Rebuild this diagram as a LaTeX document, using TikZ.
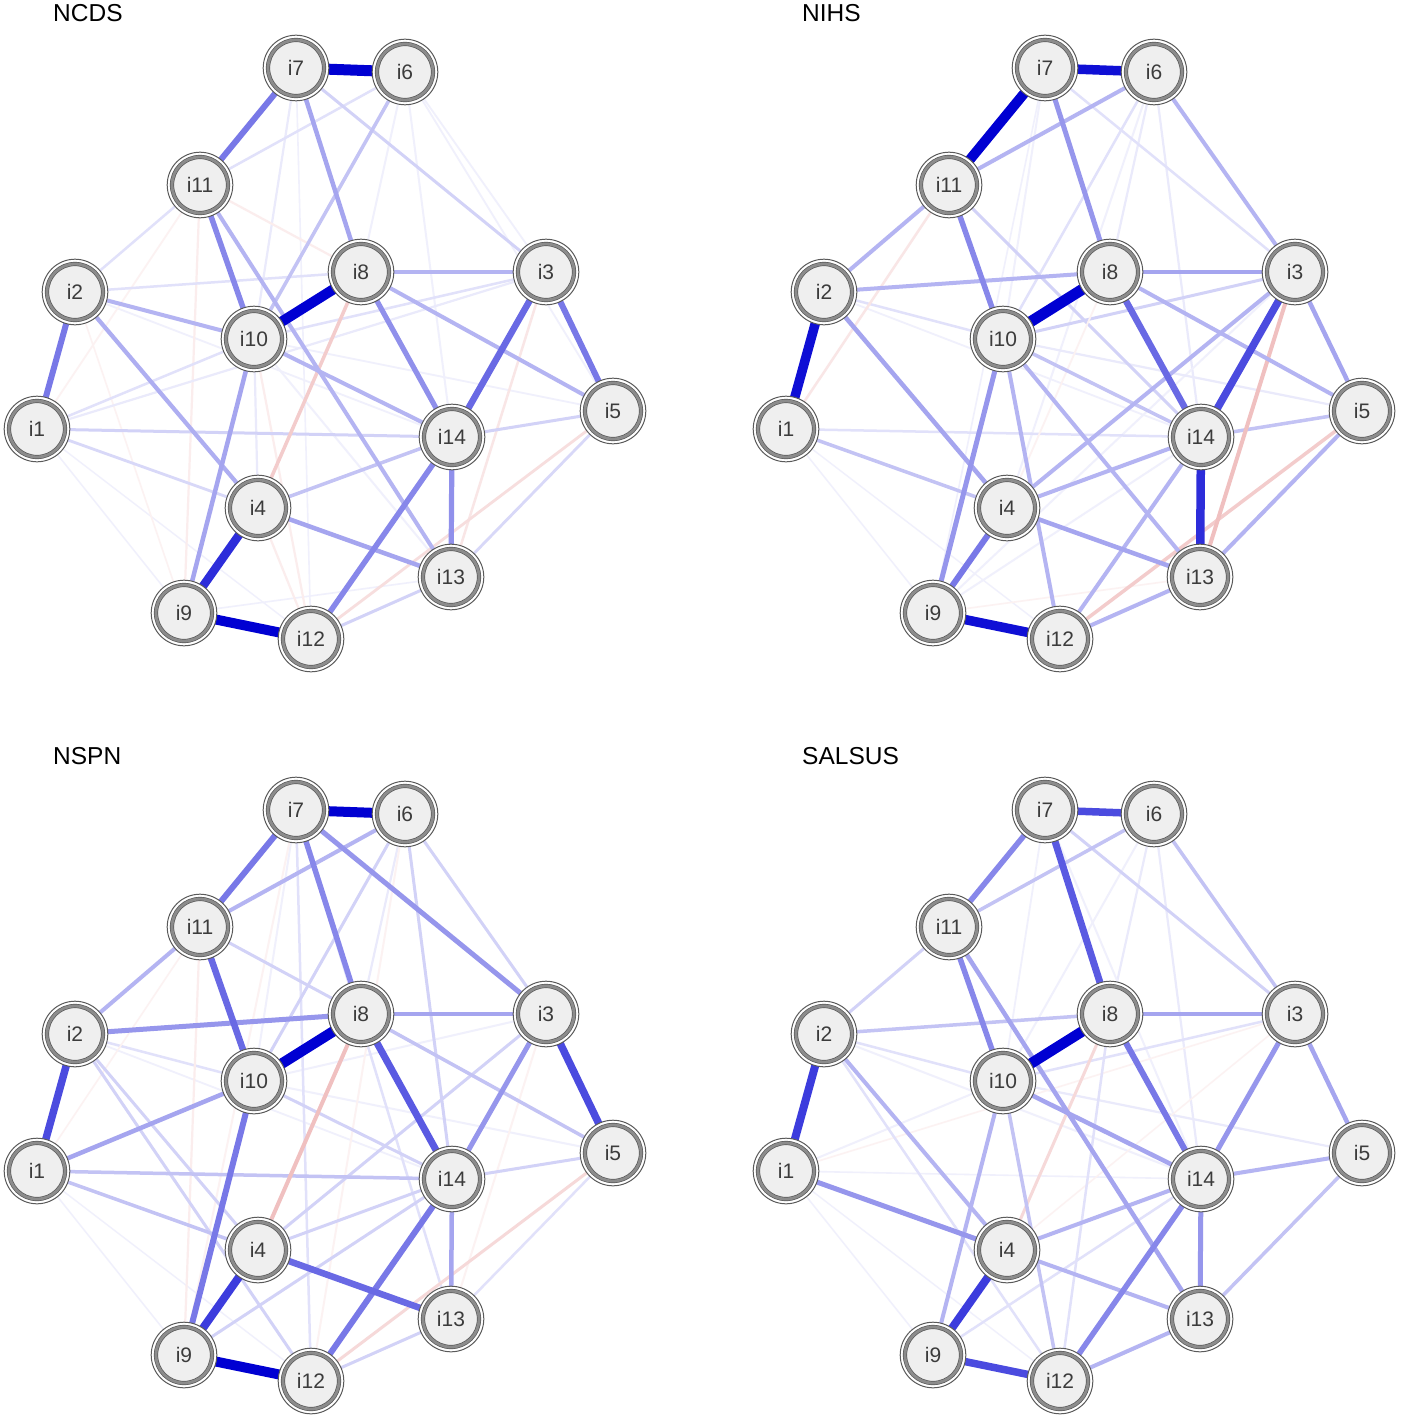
\documentclass[tikz,border=0pt]{standalone}
\usepackage{fontspec}
\setmainfont{Liberation Sans}
\pgfdeclarelayer{bglayer}
\pgfdeclarelayer{edgelayer}
\pgfsetlayers{bglayer,edgelayer,main}
\definecolor{posblue}{RGB}{0,0,210}
\definecolor{negred}{RGB}{205,40,40}
\definecolor{nodefill}{RGB}{239,239,239}
\definecolor{ringdark}{RGB}{90,90,90}
\definecolor{ringgray}{RGB}{140,140,140}
\definecolor{labelgray}{RGB}{60,60,60}
\tikzset{
  itemnode/.style={circle, minimum size=56pt, inner sep=0pt, fill=nodefill,
    draw=ringdark, line width=0.7pt, double=ringgray, double distance=2.8pt,
    font=\fontsize{21}{21}\selectfont, text=labelgray},
  outerring/.style={draw=ringdark, line width=1pt, fill=white},
  paneltitle/.style={anchor=base west, font=\fontsize{24.5}{24.5}\selectfont, text=black, inner sep=0pt},
}
\newcommand{\mkpanel}[4]{%
  \node[paneltitle] (#1-title) at (53+#2,22+#3) {#4};
  \foreach \n/\x/\y in {i7/296/68,i6/405/72,i11/200/185,i8/361/272,i3/546/272,i2/75/292,i10/254/339,i1/37/429,i5/613/411,i14/452/437,i4/258/508,i13/451/577,i9/184/613,i12/311/639}{%
    \path[outerring] (\x+#2,\y+#3) circle (32.8);
    \node[itemnode] (#1-\n) at (\x+#2,\y+#3) {\n};
  }%
}
\newcommand{\Pe}[4]{%
  \pgfmathsetmacro\pct{min(100,max(6,118*#4-6))}%
  \pgfmathsetmacro\lw{1+10*#4}%
  \begin{pgfonlayer}{edgelayer}
  \draw[line width=\lw pt, color=posblue!\pct!white] (#1-#2) -- (#1-#3);
  \end{pgfonlayer}}
\newcommand{\Ne}[4]{%
  \pgfmathsetmacro\pct{min(100,max(6,118*#4-6))}%
  \pgfmathsetmacro\lw{1+10*#4}%
  \begin{pgfonlayer}{edgelayer}
  \draw[line width=\lw pt, color=negred!\pct!white] (#1-#2) -- (#1-#3);
  \end{pgfonlayer}}
\begin{document}
\begin{tikzpicture}[x=1pt,y=-1pt]
\begin{pgfonlayer}{bglayer}
\fill[white] (0,0) rectangle (1400,1418);
\end{pgfonlayer}
\useasboundingbox (0,0) rectangle (1400,1418);
\mkpanel{A}{0}{0}{NCDS}
\mkpanel{B}{749}{0}{NIHS}
\mkpanel{C}{0}{742}{NSPN}
\mkpanel{D}{749}{742}{SALSUS}
% ---------------- NCDS ----------------
\Pe{A}{i1}{i12}{0.04}
\Pe{A}{i1}{i9}{0.05}
\Pe{A}{i6}{i5}{0.08}
\Pe{A}{i6}{i14}{0.1}
\Pe{A}{i6}{i8}{0.1}
\Pe{A}{i7}{i10}{0.12}
\Pe{A}{i7}{i12}{0.06}
\Pe{A}{i6}{i3}{0.08}
\Pe{A}{i2}{i14}{0.08}
\Pe{A}{i10}{i5}{0.08}
\Pe{A}{i9}{i13}{0.06}
\Pe{A}{i4}{i10}{0.12}
\Pe{A}{i10}{i13}{0.1}
\Ne{A}{i11}{i1}{0.08}
\Ne{A}{i11}{i9}{0.12}
\Ne{A}{i11}{i8}{0.12}
\Ne{A}{i10}{i12}{0.12}
\Ne{A}{i4}{i12}{0.12}
\Ne{A}{i2}{i9}{0.06}
\Ne{A}{i3}{i13}{0.15}
\Ne{A}{i5}{i12}{0.18}
\Pe{A}{i2}{i11}{0.15}
\Pe{A}{i2}{i8}{0.15}
\Pe{A}{i1}{i10}{0.15}
\Pe{A}{i1}{i3}{0.12}
\Pe{A}{i6}{i11}{0.15}
\Pe{A}{i7}{i3}{0.2}
\Pe{A}{i3}{i10}{0.15}
\Pe{A}{i5}{i13}{0.18}
\Pe{A}{i12}{i13}{0.2}
\Pe{A}{i1}{i4}{0.18}
\Pe{A}{i14}{i5}{0.2}
\Pe{A}{i1}{i14}{0.2}
\Pe{A}{i6}{i10}{0.25}
\Pe{A}{i4}{i14}{0.25}
\Ne{A}{i8}{i4}{0.25}
\Pe{A}{i8}{i3}{0.3}
\Pe{A}{i8}{i5}{0.3}
\Pe{A}{i10}{i14}{0.3}
\Pe{A}{i11}{i13}{0.3}
\Pe{A}{i2}{i10}{0.3}
\Pe{A}{i2}{i4}{0.32}
\Pe{A}{i4}{i13}{0.35}
\Pe{A}{i10}{i9}{0.35}
\Pe{A}{i7}{i8}{0.35}
\Pe{A}{i8}{i14}{0.42}
\Pe{A}{i14}{i13}{0.42}
\Pe{A}{i14}{i12}{0.45}
\Pe{A}{i11}{i10}{0.45}
\Pe{A}{i2}{i1}{0.5}
\Pe{A}{i3}{i5}{0.5}
\Pe{A}{i7}{i11}{0.5}
\Pe{A}{i3}{i14}{0.55}
\Pe{A}{i4}{i9}{0.75}
\Pe{A}{i9}{i12}{0.9}
\Pe{A}{i8}{i10}{0.92}
\Pe{A}{i7}{i6}{1.0}
% ---------------- NIHS ----------------
\Pe{B}{i1}{i12}{0.04}
\Pe{B}{i1}{i9}{0.05}
\Pe{B}{i6}{i8}{0.12}
\Pe{B}{i6}{i10}{0.15}
\Pe{B}{i6}{i4}{0.1}
\Pe{B}{i6}{i14}{0.12}
\Pe{B}{i7}{i10}{0.1}
\Pe{B}{i7}{i3}{0.15}
\Pe{B}{i7}{i9}{0.06}
\Pe{B}{i9}{i14}{0.1}
\Pe{B}{i9}{i3}{0.1}
\Pe{B}{i10}{i5}{0.12}
\Pe{B}{i2}{i14}{0.08}
\Pe{B}{i2}{i10}{0.15}
\Pe{B}{i1}{i14}{0.15}
\Pe{B}{i10}{i3}{0.2}
\Pe{B}{i11}{i14}{0.2}
\Ne{B}{i11}{i1}{0.15}
\Ne{B}{i8}{i4}{0.08}
\Ne{B}{i9}{i13}{0.06}
\Pe{B}{i1}{i4}{0.25}
\Pe{B}{i10}{i14}{0.25}
\Pe{B}{i14}{i5}{0.25}
\Ne{B}{i5}{i12}{0.25}
\Ne{B}{i3}{i13}{0.3}
\Pe{B}{i2}{i8}{0.3}
\Pe{B}{i2}{i11}{0.3}
\Pe{B}{i6}{i11}{0.3}
\Pe{B}{i6}{i3}{0.3}
\Pe{B}{i8}{i5}{0.3}
\Pe{B}{i4}{i3}{0.3}
\Pe{B}{i4}{i14}{0.3}
\Pe{B}{i10}{i13}{0.3}
\Pe{B}{i10}{i12}{0.3}
\Pe{B}{i12}{i14}{0.3}
\Pe{B}{i12}{i13}{0.3}
\Pe{B}{i13}{i5}{0.3}
\Pe{B}{i8}{i3}{0.35}
\Pe{B}{i2}{i4}{0.35}
\Pe{B}{i3}{i5}{0.35}
\Pe{B}{i4}{i13}{0.35}
\Pe{B}{i7}{i8}{0.4}
\Pe{B}{i10}{i9}{0.4}
\Pe{B}{i11}{i10}{0.45}
\Pe{B}{i4}{i9}{0.5}
\Pe{B}{i8}{i14}{0.55}
\Pe{B}{i3}{i14}{0.65}
\Pe{B}{i14}{i13}{0.75}
\Pe{B}{i7}{i6}{0.85}
\Pe{B}{i9}{i12}{0.85}
\Pe{B}{i2}{i1}{0.85}
\Pe{B}{i7}{i11}{0.9}
\Pe{B}{i8}{i10}{1.0}
% ---------------- NSPN ----------------
\Pe{C}{i1}{i12}{0.04}
\Pe{C}{i1}{i9}{0.05}
\Pe{C}{i6}{i8}{0.12}
\Pe{C}{i7}{i10}{0.1}
\Pe{C}{i2}{i10}{0.15}
\Pe{C}{i2}{i14}{0.08}
\Pe{C}{i10}{i5}{0.1}
\Pe{C}{i10}{i3}{0.1}
\Ne{C}{i11}{i9}{0.12}
\Ne{C}{i7}{i9}{0.1}
\Ne{C}{i6}{i12}{0.1}
\Ne{C}{i3}{i13}{0.1}
\Ne{C}{i1}{i11}{0.06}
\Pe{C}{i7}{i13}{0.15}
\Pe{C}{i7}{i12}{0.15}
\Pe{C}{i13}{i5}{0.15}
\Pe{C}{i6}{i3}{0.2}
\Pe{C}{i6}{i14}{0.2}
\Pe{C}{i6}{i10}{0.2}
\Pe{C}{i14}{i5}{0.2}
\Pe{C}{i4}{i14}{0.2}
\Pe{C}{i3}{i4}{0.2}
\Pe{C}{i9}{i14}{0.2}
\Pe{C}{i11}{i8}{0.2}
\Pe{C}{i12}{i13}{0.2}
\Pe{C}{i10}{i14}{0.2}
\Pe{C}{i2}{i4}{0.2}
\Pe{C}{i2}{i12}{0.2}
\Ne{C}{i5}{i12}{0.2}
\Pe{C}{i1}{i14}{0.25}
\Pe{C}{i1}{i4}{0.25}
\Pe{C}{i8}{i5}{0.25}
\Ne{C}{i8}{i4}{0.3}
\Pe{C}{i6}{i11}{0.3}
\Pe{C}{i2}{i11}{0.3}
\Pe{C}{i10}{i1}{0.35}
\Pe{C}{i14}{i13}{0.35}
\Pe{C}{i8}{i3}{0.35}
\Pe{C}{i7}{i3}{0.4}
\Pe{C}{i2}{i8}{0.4}
\Pe{C}{i3}{i14}{0.4}
\Pe{C}{i7}{i8}{0.45}
\Pe{C}{i7}{i11}{0.5}
\Pe{C}{i10}{i9}{0.5}
\Pe{C}{i14}{i12}{0.5}
\Pe{C}{i11}{i10}{0.55}
\Pe{C}{i4}{i13}{0.55}
\Pe{C}{i8}{i14}{0.6}
\Pe{C}{i2}{i1}{0.65}
\Pe{C}{i3}{i5}{0.65}
\Pe{C}{i4}{i9}{0.7}
\Pe{C}{i7}{i6}{0.9}
\Pe{C}{i9}{i12}{0.9}
\Pe{C}{i8}{i10}{0.95}
% ---------------- SALSUS ----------------
\Pe{D}{i1}{i12}{0.04}
\Pe{D}{i1}{i9}{0.05}
\Pe{D}{i1}{i14}{0.06}
\Pe{D}{i6}{i8}{0.12}
\Pe{D}{i6}{i10}{0.1}
\Pe{D}{i6}{i14}{0.12}
\Pe{D}{i7}{i10}{0.08}
\Pe{D}{i7}{i14}{0.1}
\Pe{D}{i10}{i5}{0.12}
\Pe{D}{i2}{i14}{0.1}
\Pe{D}{i1}{i10}{0.1}
\Ne{D}{i1}{i3}{0.06}
\Ne{D}{i4}{i3}{0.05}
\Pe{D}{i2}{i10}{0.15}
\Pe{D}{i9}{i14}{0.15}
\Pe{D}{i3}{i10}{0.15}
\Pe{D}{i2}{i11}{0.2}
\Pe{D}{i7}{i3}{0.2}
\Pe{D}{i2}{i12}{0.15}
\Pe{D}{i8}{i12}{0.15}
\Ne{D}{i8}{i4}{0.2}
\Pe{D}{i6}{i11}{0.25}
\Pe{D}{i6}{i3}{0.25}
\Pe{D}{i2}{i8}{0.25}
\Pe{D}{i13}{i5}{0.25}
\Pe{D}{i10}{i12}{0.25}
\Pe{D}{i14}{i5}{0.3}
\Pe{D}{i4}{i14}{0.3}
\Pe{D}{i4}{i13}{0.3}
\Pe{D}{i12}{i13}{0.3}
\Pe{D}{i2}{i4}{0.3}
\Pe{D}{i10}{i9}{0.3}
\Pe{D}{i11}{i13}{0.35}
\Pe{D}{i10}{i14}{0.35}
\Pe{D}{i8}{i3}{0.35}
\Pe{D}{i3}{i5}{0.35}
\Pe{D}{i3}{i14}{0.4}
\Pe{D}{i14}{i13}{0.4}
\Pe{D}{i1}{i4}{0.4}
\Pe{D}{i11}{i10}{0.45}
\Pe{D}{i7}{i11}{0.45}
\Pe{D}{i14}{i12}{0.45}
\Pe{D}{i8}{i14}{0.5}
\Pe{D}{i7}{i8}{0.6}
\Pe{D}{i7}{i6}{0.65}
\Pe{D}{i9}{i12}{0.65}
\Pe{D}{i4}{i9}{0.7}
\Pe{D}{i2}{i1}{0.7}
\Pe{D}{i8}{i10}{0.95}
\end{tikzpicture}
\end{document}
